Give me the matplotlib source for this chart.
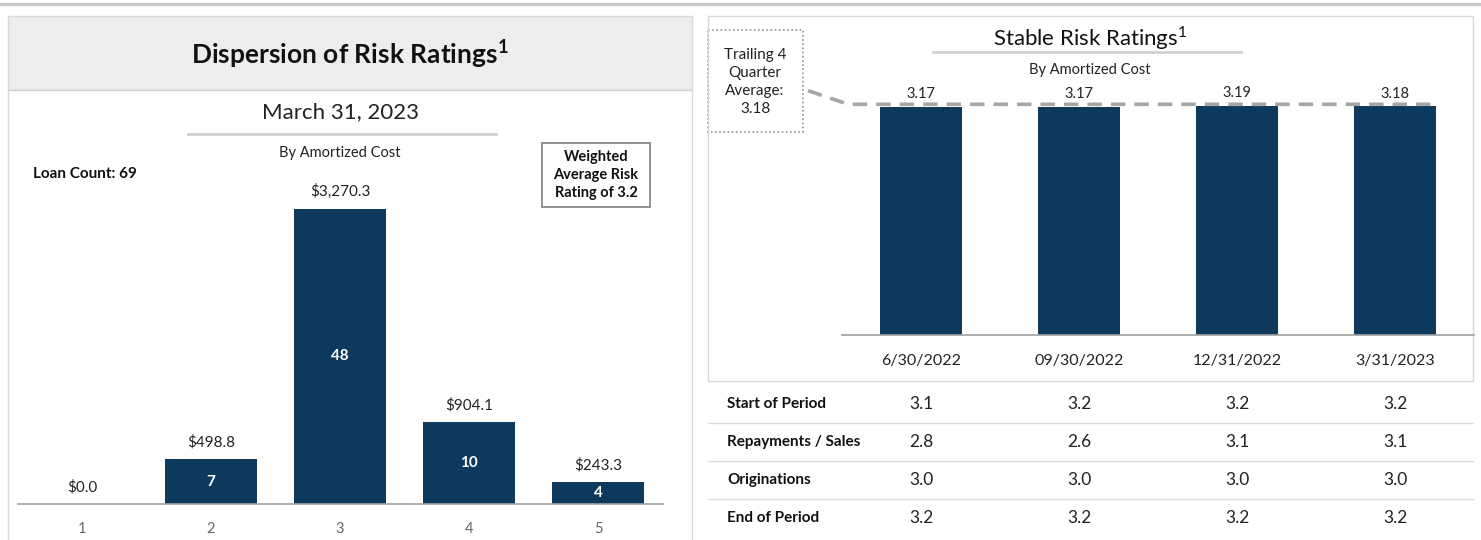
import numpy as np
import matplotlib.pyplot as plt
from matplotlib.patches import Rectangle

plt.rcParams['font.family'] = ['Lato', 'DejaVu Sans']
plt.rcParams['mathtext.fontset'] = 'custom'
plt.rcParams['mathtext.rm'] = 'Lato'
plt.rcParams['mathtext.bf'] = 'Lato:bold'

# left chart data
ratings = ['1', '2', '3', '4', '5']
amort_cost = [0.0, 498.8, 3270.3, 904.1, 243.3]
loan_counts = [0, 7, 48, 10, 4]

# right chart data
quarters = ['6/30/2022', '09/30/2022', '12/31/2022', '3/31/2023']
avg_rating = [3.17, 3.17, 3.19, 3.18]
row_names = ['Start of Period', 'Repayments / Sales', 'Originations', 'End of Period']
start_period = [3.1, 3.2, 3.2, 3.2]
repay_sales = [2.8, 2.6, 3.1, 3.1]
originations = [3.0, 3.0, 3.0, 3.0]
end_period = [3.2, 3.2, 3.2, 3.2]

navy = '#0d3a5c'
W, H = 1481, 540
fig = plt.figure(figsize=(W / 100, H / 100), dpi=100)

# background layer in pixel coordinates
bg = fig.add_axes([0, 0, 1, 1])
bg.set_xlim(0, W)
bg.set_ylim(H, 0)
bg.axis('off')

bg.plot([0, W], [4, 4], color='#c8c8c8', lw=2.5)

# left panel frame + header band
bg.add_patch(Rectangle((8, 16), 684, 74, facecolor='#ededed', edgecolor='none'))
bg.plot([8, 692], [90, 90], color='#d0d0d0', lw=1)
bg.plot([8, 692, 692, 8, 8], [541, 541, 16, 16, 541], color='#d9d9d9', lw=1)
bg.text(350, 54, r'Dispersion of Risk Ratings$^{\mathbf{1}}$', fontsize=19,
        fontweight='bold', ha='center', va='center', color='#111111')
bg.text(340, 112, 'March 31, 2023', fontsize=16, ha='center', va='center', color='#222222')
bg.plot([188, 496], [134, 134], color='#d0d0d0', lw=2)
bg.text(340, 153, 'By Amortized Cost', fontsize=10.5, ha='center', va='center', color='#222222')
bg.text(33, 174, 'Loan Count: 69', fontsize=11, fontweight='bold', ha='left', va='center',
        color='#111111')
bg.add_patch(Rectangle((542, 143), 108, 64, facecolor='white', edgecolor='#808080', lw=1.2))
bg.text(596, 175, 'Weighted\nAverage Risk\nRating of 3.2', fontsize=10.5, fontweight='bold',
        ha='center', va='center', linespacing=1.35, color='#111111')

# right panel frame
bg.plot([708, 1473, 1473, 708, 708], [16, 16, 381, 381, 16], color='#d9d9d9', lw=1)
bg.text(1090, 38, r'Stable Risk Ratings$^{1}$', fontsize=16, ha='center', va='center',
        color='#111111')
bg.plot([933, 1241], [52, 52], color='#d0d0d0', lw=2)
bg.text(1090, 70, 'By Amortized Cost', fontsize=10.5, ha='center', va='center', color='#222222')
bg.add_patch(Rectangle((708, 30), 95, 102, facecolor='white', edgecolor='#909090', lw=1.2,
                       linestyle=(0, (1, 1.5))))
trailing = np.mean(avg_rating)
bg.text(755, 82, f'Trailing 4\nQuarter\nAverage:\n{trailing:.2f}', fontsize=11,
        ha='center', va='center', linespacing=1.35, color='#222222')

# left bar chart
lp = 129.0
ppu = 295.0 / 3270.3
ax1 = fig.add_axes([17.5 / W, (H - 504) / H, 5 * lp / W, 3800 * ppu / H])
x1 = np.arange(len(ratings))
bars = ax1.bar(x1, amort_cost, width=0.72, color=navy)
ax1.set_xlim(-0.5, 4.5)
ax1.set_ylim(0, 3800)
for s in ['top', 'right', 'left']:
    ax1.spines[s].set_visible(False)
ax1.spines['bottom'].set_color('#a0a0a0')
ax1.spines['bottom'].set_linewidth(1.2)
ax1.set_yticks([])
ax1.set_xticks(x1)
ax1.set_xticklabels(ratings, fontsize=10.5, color='#666666')
ax1.tick_params(axis='x', length=0, pad=13)
ax1.patch.set_alpha(0)
for xi, v, c in zip(x1, amort_cost, loan_counts):
    ax1.text(xi, v + 110, f'${v:,.1f}', ha='center', va='bottom', fontsize=11, color='#222222')
    if c > 0:
        ax1.text(xi, v / 2, str(c), ha='center', va='center', fontsize=11,
                 fontweight='bold', color='white')

# right bar chart
rp = 158.0
rppu = 228.0 / 3.17
ax2 = fig.add_axes([842 / W, (H - 335) / H, 4 * rp / W, 4.0 * rppu / H])
x2 = np.arange(len(quarters))
ax2.bar(x2, avg_rating, width=0.52, color=navy)
ax2.set_xlim(-0.5, 3.5)
ax2.set_ylim(0, 4.0)
for s in ['top', 'right', 'left']:
    ax2.spines[s].set_visible(False)
ax2.spines['bottom'].set_color('#a0a0a0')
ax2.spines['bottom'].set_linewidth(1.2)
ax2.set_yticks([])
ax2.set_xticks(x2)
ax2.set_xticklabels(quarters, fontsize=11.5, color='#222222')
ax2.tick_params(axis='x', length=0, pad=14)
ax2.patch.set_alpha(0)
for xi, v in zip(x2, avg_rating):
    ax2.text(xi, v + 0.08, f'{v:.2f}', ha='center', va='bottom', fontsize=10.5, color='#222222')
# trailing average dashed line with connector to the box
ax2.plot([-0.715, -0.46, 3.25], [trailing + 0.22, trailing + 0.03, trailing + 0.03],
         color='#a6a6a6', lw=2.6, ls=(0, (4, 2.5)), clip_on=False)

# table under right chart
rows = [start_period, repay_sales, originations, end_period]
for i, (name, vals) in enumerate(zip(row_names, rows)):
    yy = 404 + 38 * i
    bg.text(727, yy, name, fontsize=11, fontweight='bold', ha='left', va='center',
            color='#111111')
    for j, v in enumerate(vals):
        bg.text(921 + rp * j, yy, f'{v:.1f}', fontsize=12.5, ha='center', va='center',
                color='#222222')
    if i < 3:
        bg.plot([708, 1473], [yy + 19, yy + 19], color='#dcdcdc', lw=1)

fig.savefig('out.png', dpi=100)
